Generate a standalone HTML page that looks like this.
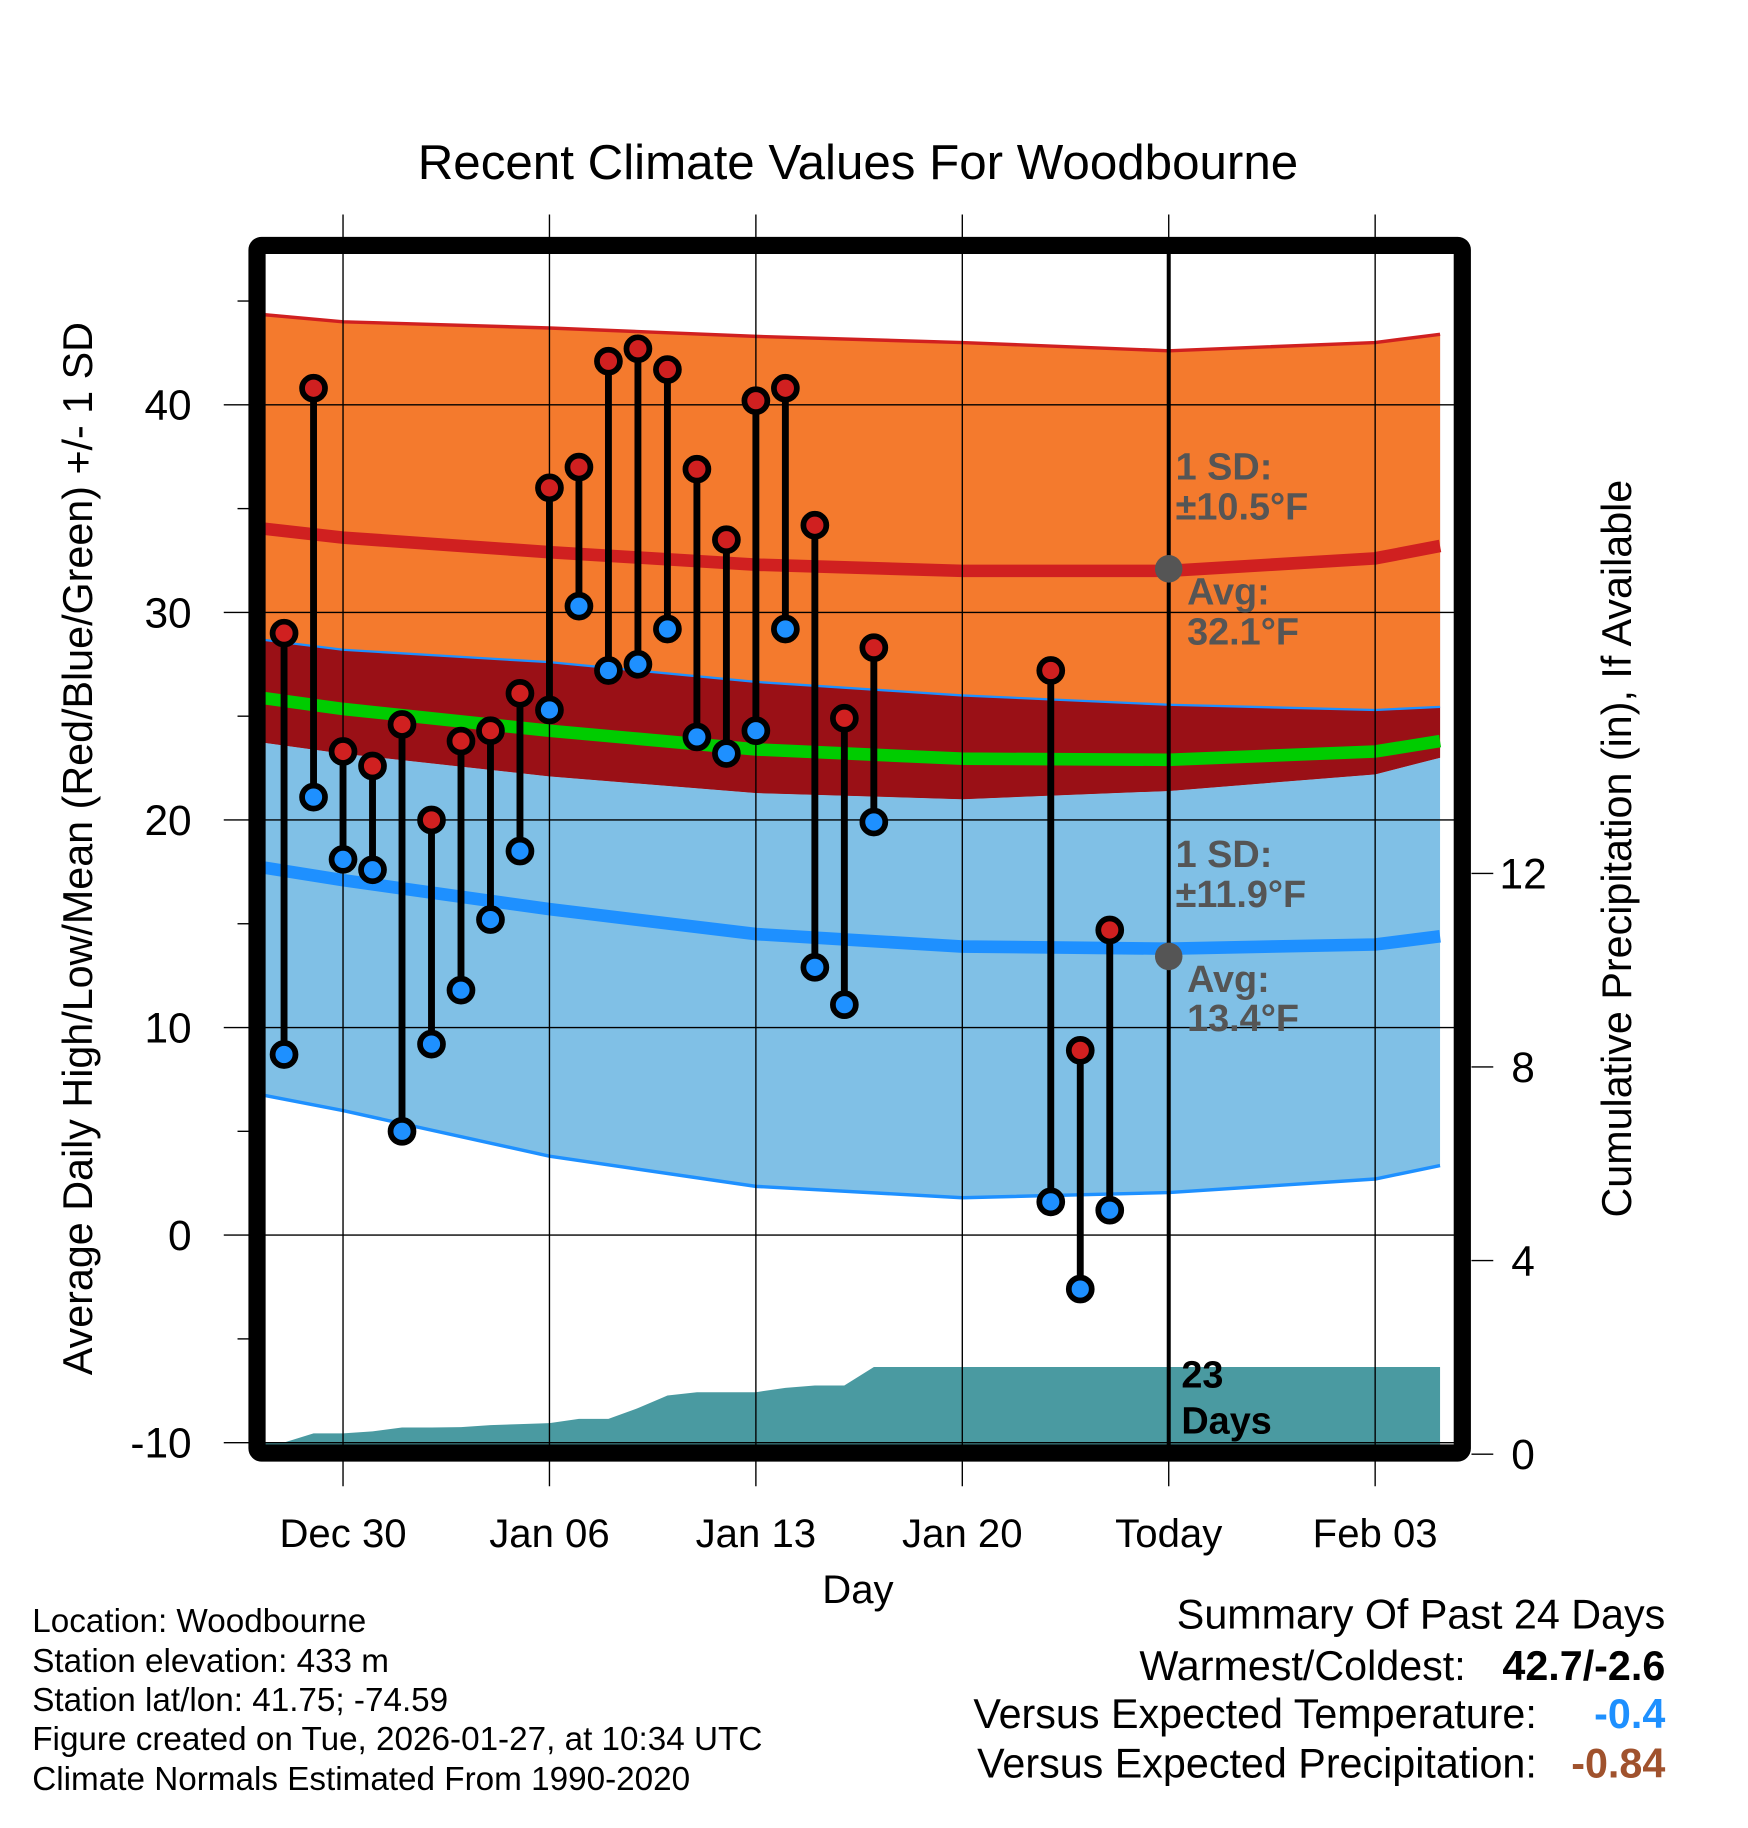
<!DOCTYPE html>
<html><head><meta charset="utf-8"><style>
html,body{margin:0;padding:0;background:#fff}
svg{display:block;font-family:"Liberation Sans",sans-serif}
</style></head><body>
<svg id="c" width="1748" height="1828" viewBox="0 0 1524 1594" xmlns="http://www.w3.org/2000/svg">
<text x="748" y="156" font-size="43" text-anchor="middle">Recent Climate Values For Woodbourne</text>
<g id="plot"></g>
<text x="748" y="1398" font-size="35" text-anchor="middle">Day</text>
<text transform="translate(80,740) rotate(-90)" font-size="36" text-anchor="middle">Average Daily High/Low/Mean (Red/Blue/Green) +/- 1 SD</text>
<text transform="translate(1422,740) rotate(-90)" font-size="36" text-anchor="middle">Cumulative Precipitation (in), If Available</text>
<g font-size="29">
<text x="28" y="1423">Location: Woodbourne</text>
<text x="28" y="1458">Station elevation: 433 m</text>
<text x="28" y="1492">Station lat/lon: 41.75; -74.59</text>
<text x="28" y="1526">Figure created on Tue, 2026-01-27, at 10:34 UTC</text>
<text x="28" y="1561">Climate Normals Estimated From 1990-2020</text>
</g>
<g font-size="36" text-anchor="end">
<text x="1452" y="1420">Summary Of Past 24 Days</text>
<text x="1278" y="1465">Warmest/Coldest:</text>
<text x="1452" y="1465" font-weight="bold">42.7/-2.6</text>
<text x="1340" y="1507">Versus Expected Temperature:</text>
<text x="1452" y="1507" font-weight="bold" fill="#1e90ff">-0.4</text>
<text x="1340" y="1550">Versus Expected Precipitation:</text>
<text x="1452" y="1550" font-weight="bold" fill="#a0522d">-0.84</text>
</g>
</svg>
<script>
// day index 0 = Dec 30
const normDays=[-3.1,0,7,14,21,28,35,37.2];
const hiAvg=[34.1,33.6,32.9,32.3,32.0,32.0,32.6,33.2];
const hiSD=[10.3,10.4,10.8,11.0,11.0,10.6,10.4,10.2];
const loAvg=[17.8,17.1,15.7,14.5,13.9,13.8,14.0,14.4];
const loSD=[10.95,11.1,11.9,12.15,12.1,11.75,11.3,11.05];
const obsDays=[-2,-1,0,1,2,3,4,5,6,7,8,9,10,11,12,13,14,15,16,17,18,24,25,26];
const obsHigh=[29.0,40.8,23.3,22.6,24.6,20.0,23.8,24.3,26.1,36.0,37.0,42.1,42.7,41.7,36.9,33.5,40.2,40.8,34.2,24.9,28.3,27.2,8.9,14.7];
const obsLow=[8.7,21.1,18.1,17.6,5.0,9.2,11.8,15.2,18.5,25.3,30.3,27.2,27.5,29.2,24.0,23.2,24.3,29.2,12.9,11.1,19.9,1.6,-2.6,1.2];
const precipDays=[-3.1,-2,-1,0,1,2,3,4,5,6,7,8,9,10,11,12,13,14,15,16,17,18,37.2];
const precipVals=[0.24,0.24,0.43,0.43,0.47,0.55,0.55,0.56,0.6,0.62,0.64,0.73,0.73,0.95,1.21,1.28,1.28,1.28,1.37,1.42,1.42,1.8,1.8];
const xTickDays=[0,7,14,21,28,35];
const xTickLabels=["Dec 30","Jan 06","Jan 13","Jan 20","Today","Feb 03"];
const yTicks=[-10,0,10,20,30,40];
const y2Ticks=[0,4,8,12];

const X=d=>299+d*180/7;
const Y=v=>1077-18.1*v;
const Y2=p=>1268-42.2*p;
const L=231,R=1268,T=221,B=1260;
const NS="http://www.w3.org/2000/svg";
const g=document.getElementById('plot');
function el(t,a,p){const e=document.createElementNS(NS,t);for(const k in a)e.setAttribute(k,a[k]);(p||g).appendChild(e);return e;}
const defs=el('defs',{});const cp=el('clipPath',{id:'clip'},defs);el('rect',{x:L,y:T,width:R-L,height:B-T},cp);
const clipG=el('g',{'clip-path':'url(#clip)'});
function pts(arr){return arr.map(p=>p[0].toFixed(1)+','+p[1].toFixed(1)).join(' ');}
const hiUp=normDays.map((d,i)=>[X(d),Y(hiAvg[i]+hiSD[i])]);
const hiLo=normDays.map((d,i)=>[X(d),Y(hiAvg[i]-hiSD[i])]);
const loUp=normDays.map((d,i)=>[X(d),Y(loAvg[i]+loSD[i])]);
const loLo=normDays.map((d,i)=>[X(d),Y(loAvg[i]-loSD[i])]);
function band(up,lo,fill,name){const e=el('polygon',{points:pts(up.concat(lo.slice().reverse())),fill:fill},clipG);

}
band(hiUp,hiLo,'#9a1016','high-sd-overlap');
band(hiUp,loUp,'#f47a2d','high-sd-band');
band(hiLo,loLo,'#80c0e6','low-sd-band');
function line(p,c,w,name){const e=el('polyline',{points:pts(p),fill:'none',stroke:c,'stroke-width':w},clipG);

}
band(hiLo,loUp,'#9a1016','overlap-band');
line(hiUp,'#d02020',3,'high-upper-line');
line(loUp,'#1e90ff',2,'low-upper-line');
line(loLo,'#1e90ff',3,'low-lower-line');
line(normDays.map((d,i)=>[X(d),Y(hiAvg[i])]),'#d02020',11,'avg-high-line');
line(normDays.map((d,i)=>[X(d),Y(loAvg[i])]),'#1e90ff',11,'avg-low-line');
line(normDays.map((d,i)=>[X(d),Y((hiAvg[i]+loAvg[i])/2)]),'#00cc00',11,'avg-mean-line');
// precip
const pp=precipDays.map((d,i)=>[X(d),Y2(precipVals[i])]);
const pa=el('polygon',{points:pts(pp.concat([[X(37.2),B+5],[X(-3.1),B+5]])),fill:'#4a9aa1'},clipG);


// grid
yTicks.forEach(v=>{const e=el('line',{x1:195,x2:R,y1:Y(v),y2:Y(v),stroke:'#000','stroke-width':1.2});


const t=el('text',{x:167,y:Y(v)+13,'font-size':37,'text-anchor':'end'});t.textContent=v;

});
[-5,5,15,25,35,45].forEach(v=>el('line',{x1:207,x2:217,y1:Y(v),y2:Y(v),stroke:'#000','stroke-width':1.2}));
xTickDays.forEach((d,i)=>{const e=el('line',{x1:X(d),x2:X(d),y1:187,y2:1296,stroke:'#000','stroke-width':1.2});


const t=el('text',{x:X(d),y:1349,'font-size':35,'text-anchor':'middle'});t.textContent=xTickLabels[i];

});
y2Ticks.forEach(v=>{el('line',{x1:1283,x2:1302,y1:Y2(v),y2:Y2(v),stroke:'#000','stroke-width':1.2});
const t=el('text',{x:1328,y:Y2(v)+13,'font-size':37,'text-anchor':'middle'});t.textContent=v;

});
// today line
const tl=el('line',{x1:X(28),x2:X(28),y1:T,y2:B,stroke:'#000','stroke-width':3.5});


// observations
obsDays.forEach((d,i)=>{
 const s=el('line',{x1:X(d),x2:X(d),y1:Y(obsHigh[i]),y2:Y(obsLow[i]),stroke:'#000','stroke-width':6});
 
 
 const h=el('circle',{cx:X(d),cy:Y(obsHigh[i]),r:10,fill:'#d02020',stroke:'#000','stroke-width':5});
 
 
 const l=el('circle',{cx:X(d),cy:Y(obsLow[i]),r:10,fill:'#1e90ff',stroke:'#000','stroke-width':5});
 
 
});
// annotations
[[496],[834]].forEach((a,k)=>{const c=el('circle',{cx:X(28),cy:a[0],r:12,fill:'#555'});

});
const ann=[[1025,418,'1 SD:'],[1025,453,'±10.5°F'],[1035,527,'Avg:'],[1035,562,'32.1°F'],[1025,756,'1 SD:'],[1025,791,'±11.9°F'],[1035,865,'Avg:'],[1035,899,'13.4°F']];
ann.forEach(a=>{const t=el('text',{x:a[0],y:a[1],'font-size':33,'font-weight':'bold',fill:'#555'});t.textContent=a[2];

});
[[1030,1210,'23'],[1030,1250,'Days']].forEach(a=>{const t=el('text',{x:a[0],y:a[1],'font-size':33,'font-weight':'bold'});t.textContent=a[2];

});
// frame
const fr=el('rect',{x:224,y:214,width:1051,height:1053,fill:'none',stroke:'#000','stroke-width':15,rx:4});


</script>
</body></html>
